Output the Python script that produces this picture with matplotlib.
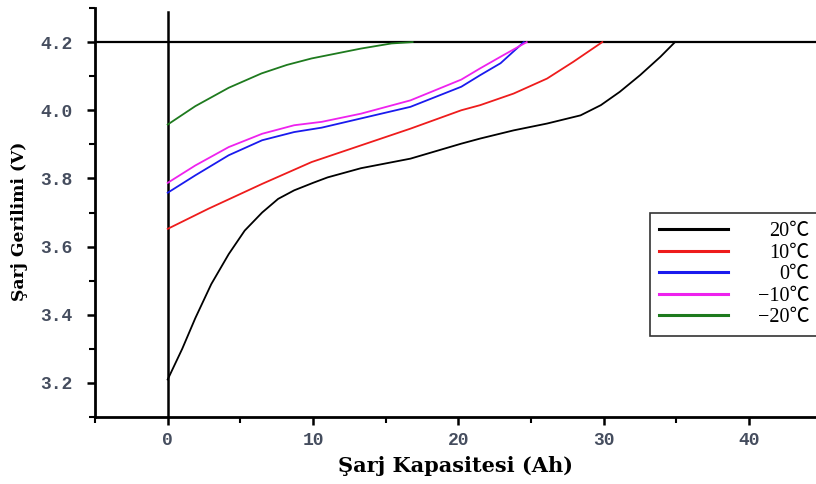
import matplotlib
matplotlib.use("Agg")
import matplotlib.pyplot as plt
from matplotlib.ticker import MultipleLocator

# charge capacity (Ah) vs charge voltage (V)
cap_20 = [0, 1, 1.9, 3, 4.2, 5.3, 6.5, 7.6, 8.7, 10, 11, 13.3, 16.7, 20.2, 21.5, 23.8, 26.1,
          28.4, 29.8, 31.1, 32.5, 33.9, 34.9]
v_20 = [3.21, 3.30, 3.39, 3.49, 3.578, 3.647, 3.70, 3.74, 3.765, 3.787, 3.803, 3.83, 3.858, 3.902,
        3.917, 3.941, 3.961, 3.985, 4.015, 4.054, 4.103, 4.157, 4.2]

cap_10 = [0, 2.8, 6.5, 9.9, 13.3, 16.7, 20.2, 21.5, 23.8, 26.1, 27.9, 29.9]
v_10 = [3.652, 3.711, 3.784, 3.848, 3.897, 3.946, 4.0, 4.015, 4.049, 4.093, 4.142, 4.2]

cap_0 = [0, 1.9, 4.2, 6.5, 8.7, 10.6, 13.3, 16.7, 20.2, 21.5, 22.9, 24.5]
v_0 = [3.758, 3.809, 3.868, 3.912, 3.936, 3.949, 3.976, 4.01, 4.069, 4.103, 4.138, 4.2]

cap_m10 = [0, 1.9, 4.2, 6.5, 8.7, 10.6, 13.3, 16.7, 20.2, 21.5, 22.9, 24.7]
v_m10 = [3.787, 3.838, 3.892, 3.931, 3.956, 3.966, 3.99, 4.029, 4.09, 4.123, 4.157, 4.2]

cap_m20 = [0, 1.9, 4.2, 6.45, 8.2, 9.9, 13.3, 15.4, 16.85]
v_m20 = [3.958, 4.012, 4.066, 4.108, 4.133, 4.152, 4.181, 4.196, 4.2]

series = [
    (cap_20, v_20, "black", "20\u2103"),
    (cap_10, v_10, "#ee1c1c", "10\u2103"),
    (cap_0, v_0, "#1a1aee", "0\u2103"),
    (cap_m10, v_m10, "#ee22ee", "\u221210\u2103"),
    (cap_m20, v_m20, "#1e7a1e", "\u221220\u2103"),
]

V_CUTOFF = 4.2
TICK_COLOR = "#454d5e"
LEG_FONT = ["Liberation Serif", "Noto Sans CJK SC", "DejaVu Sans"]

fig = plt.figure(figsize=(8.16, 4.84), dpi=100)
ax = fig.add_axes([95 / 816, 67 / 484, 1 - 95 / 816, (417 - 8) / 484])

for x, y, color, label in series:
    ax.plot(x, y, color=color, lw=1.3, label=label, zorder=3)

ax.axhline(V_CUTOFF, color="black", lw=1.6, zorder=2)
ax.axvline(0, color="black", lw=1.8, ymax=0.99, zorder=2)

ax.set_xlim(-5, 44.6)
ax.set_ylim(3.1, 4.3)
ax.xaxis.set_major_locator(MultipleLocator(10))
ax.xaxis.set_minor_locator(MultipleLocator(5))
ax.yaxis.set_major_locator(MultipleLocator(0.2))
ax.yaxis.set_minor_locator(MultipleLocator(0.1))

for side in ("top", "right"):
    ax.spines[side].set_visible(False)
for side in ("left", "bottom"):
    ax.spines[side].set_linewidth(2.0)

ax.tick_params(which="major", direction="out", length=6, width=1.8)
ax.tick_params(which="minor", direction="out", length=4, width=1.5)
ax.tick_params(axis="y", which="major", pad=10)
ax.tick_params(axis="x", which="major", pad=5)
ax.set_yticks([3.2, 3.4, 3.6, 3.8, 4.0, 4.2])
ax.set_yticklabels(["3.2", "3.4", "3.6", "3.8", "4.0", "4.2"])
for t in ax.get_yticklabels() + ax.get_xticklabels():
    t.set_fontfamily("Liberation Mono")
    t.set_fontweight("bold")
    t.set_fontsize(13)
    t.set_color(TICK_COLOR)

ax.set_xlabel("Şarj Kapasitesi (Ah)", fontfamily="DejaVu Serif", fontweight="bold",
              fontsize=15, labelpad=5)
ax.set_ylabel("Şarj Gerilimi (V)", fontfamily="DejaVu Serif", fontweight="bold",
              fontsize=12.3)
ax.yaxis.set_label_coords(-0.093, 0.479)

leg = ax.legend(loc="upper left", bbox_to_anchor=((650 - 95) / 721, 1 - (213 - 8) / 409),
                bbox_transform=ax.transAxes, fancybox=False, edgecolor="#333333",
                framealpha=1, handlelength=3.4, handletextpad=1.5, labelspacing=0.12,
                borderpad=0.45, borderaxespad=0,
                prop={"family": LEG_FONT, "size": 14.5})
leg.get_frame().set_linewidth(1.2)
for line in leg.get_lines():
    line.set_linewidth(2.2)

# right-align the legend labels: hide the originals, redraw them flush right
fig.canvas.draw()
renderer = fig.canvas.get_renderer()
texts = leg.get_texts()
boxes = [t.get_window_extent(renderer) for t in texts]
right = max(b.x1 for b in boxes)
for t, b in zip(texts, boxes):
    t.set_alpha(0)
    fig.text(right / fig.dpi / fig.get_figwidth(), (b.y0 + b.y1) / 2 / fig.dpi / fig.get_figheight(),
             t.get_text(), ha="right", va="center", family=LEG_FONT, size=14.5, zorder=10)

fig.savefig("out.png", dpi=100)
